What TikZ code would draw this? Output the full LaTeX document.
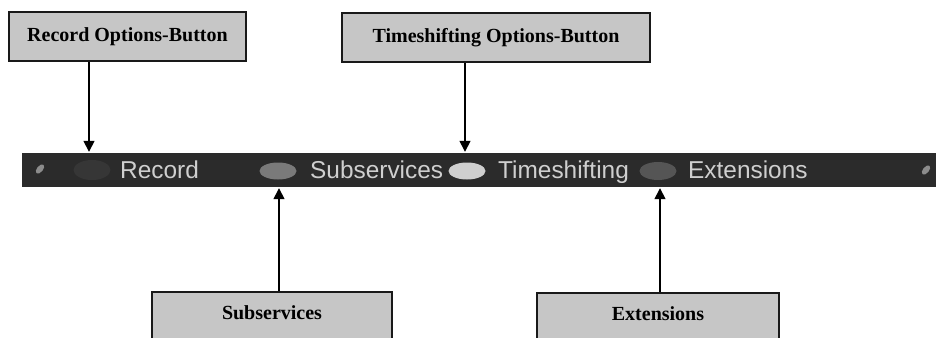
\documentclass[tikz,border=0pt]{standalone}
\usepackage{fontspec}
\setmainfont{Liberation Serif}
\newfontfamily\barfont{Liberation Sans}
\usetikzlibrary{arrows.meta,shapes.geometric}

\definecolor{calloutfill}{HTML}{C6C6C6}
\definecolor{barfill}{HTML}{2B2B2B}
\definecolor{bartext}{HTML}{CFCFCF}
\definecolor{recbtn}{HTML}{363636}
\definecolor{subbtn}{HTML}{7A7A7A}
\definecolor{tsbtn}{HTML}{CFCFCF}
\definecolor{extbtn}{HTML}{555555}
\definecolor{screwgray}{HTML}{8C8C8C}

\begin{document}
\begin{tikzpicture}[x=1pt,y=1pt,
  callout/.style={draw=black!90, line width=2.8pt, fill=calloutfill, inner sep=0pt},
  calltext/.style={font=\bfseries\fontsize{20}{22}\selectfont, inner sep=0pt},
  btnlabel/.style={text=bartext, font=\barfont\fontsize{24.4}{27}\selectfont, anchor=base west, inner sep=0pt},
  pointer/.style={-{Triangle[length=11pt,width=11pt]}, line width=1.5pt},
  button/.style={ellipse, minimum width=37pt, minimum height=18pt, inner sep=0pt},
  screw/.style={ellipse, fill=screwgray, minimum width=6pt, minimum height=11pt, inner sep=0pt, rotate=-40}]

\useasboundingbox (0,-337) rectangle (936,0);
\clip (0,-337) rectangle (936,0);
\fill[white] (0,-337) rectangle (936,0);

% upper callouts
\node[callout, minimum width=237, minimum height=49, calltext] (recbox) at (127.5,-36.5) {Record Options-Button};
\node[callout, minimum width=308, minimum height=49, calltext] (tsbox) at (496,-37.5) {Timeshifting Options-Button};

% lower callouts (their lower edge runs off the page)
\node[callout, minimum width=240, minimum height=60] (subbox) at (272,-322) {};
\node[calltext] (subtext) at (272,-313) {Subservices};
\node[callout, minimum width=242, minimum height=60] (extbox) at (658,-323) {};
\node[calltext] (exttext) at (658,-314) {Extensions};

% the menu bar
\node[fill=barfill, minimum width=930, minimum height=34, inner sep=0pt] (bar) at (487,-170) {};
\node[screw] (lscrew) at (40,-169) {};
\node[screw] (rscrew) at (926,-170) {};

% coloured buttons and their labels
\node[button, fill=recbtn, minimum height=20pt] (rec) at (92,-170) {};
\node[btnlabel] (reclabel) at (120,-178) {Record};
\node[button, fill=subbtn, minimum height=17pt] (sub) at (278,-171) {};
\node[btnlabel] (sublabel) at (310,-178) {Subservices};
\node[button, fill=tsbtn, minimum height=17pt] (ts) at (467,-171) {};
\node[btnlabel] (tslabel) at (498,-178) {Timeshifting};
\node[button, fill=extbtn, minimum height=18pt] (ext) at (658,-171) {};
\node[btnlabel] (extlabel) at (688,-178) {Extensions};

% pointer lines
\coordinate (recx) at (89,0);
\coordinate (tsx) at (465,0);
\coordinate (subx) at (279,0);
\coordinate (extx) at (660,0);

\draw[pointer] (recx |- recbox.south) -- ([yshift=1pt]recx |- bar.north);
\draw[pointer] (tsx |- tsbox.south) -- ([yshift=1pt]tsx |- bar.north);
\draw[pointer] (subx |- subbox.north) -- ([yshift=-1pt]subx |- bar.south);
\draw[pointer] (extx |- extbox.north) -- ([yshift=-1pt]extx |- bar.south);
\end{tikzpicture}
\end{document}
